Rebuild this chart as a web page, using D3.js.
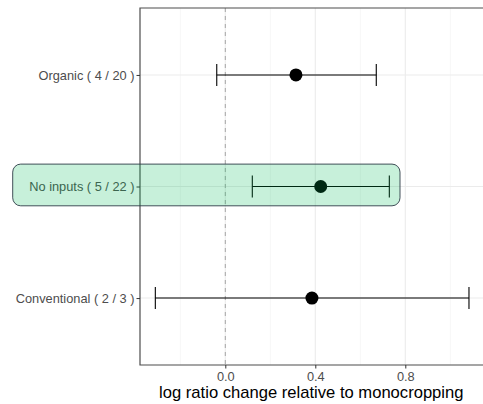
<!DOCTYPE html>
<html lang="en">
<head>
  <meta charset="utf-8">
  <title>log ratio</title>
  <script src="https://cdn.jsdelivr.net/npm/d3@7"></script>
  <style type="text/css">
    body{ margin:0; background:#fff; }
    text{ font-family: "Liberation Sans", Arial, sans-serif; }
  </style>
</head>
<body>
  <script type="text/javascript">

    var width = 483;
    var height = 404;

    // data
    var categories = ["Organic ( 4 / 20 )", "No inputs ( 5 / 22 )", "Conventional ( 2 / 3 )"];
    var estimates = [0.314, 0.424, 0.385];
    var lowers = [-0.038, 0.12, -0.311];
    var uppers = [0.671, 0.729, 1.083];
    var xTicks = [0.0, 0.4, 0.8];
    var xMinor = [-0.2, 0.2, 0.6, 1.0];
    var highlighted = "No inputs ( 5 / 22 )";

    var panel = {left: 140, top: 8, right: 520, bottom: 365};

    var svg = d3.select("body")
        .append("svg")
        .attr("width", width)
        .attr("height", height);

    // x: 0 at 225.3, 225px per unit
    var xScale = d3.scaleLinear()
        .domain([-0.38, 1.31])
        .range([225.3 - 0.38 * 225, 225.3 + 1.31 * 225]);

    var yScale = d3.scalePoint()
        .domain(categories)
        .range([panel.top, panel.bottom])
        .padding(0.6);

    // grid lines
    svg.selectAll(".minor")
        .data(xMinor)
        .enter().append("line")
        .attr("x1", d => xScale(d)).attr("x2", d => xScale(d))
        .attr("y1", panel.top).attr("y2", panel.bottom)
        .attr("stroke", "#f0f0f0").attr("stroke-width", 0.6);

    svg.selectAll(".major")
        .data(xTicks)
        .enter().append("line")
        .attr("x1", d => xScale(d)).attr("x2", d => xScale(d))
        .attr("y1", panel.top).attr("y2", panel.bottom)
        .attr("stroke", "#ebebeb").attr("stroke-width", 1.1);

    svg.selectAll(".hgrid")
        .data(categories)
        .enter().append("line")
        .attr("x1", panel.left).attr("x2", panel.right)
        .attr("y1", d => yScale(d)).attr("y2", d => yScale(d))
        .attr("stroke", "#ebebeb").attr("stroke-width", 1.1);

    // zero reference
    svg.append("line")
        .attr("x1", xScale(0)).attr("x2", xScale(0))
        .attr("y1", panel.top).attr("y2", panel.bottom)
        .attr("stroke", "#a6a6a6")
        .attr("stroke-dasharray", "4,4");

    var rows = categories.map(function(c, i){
        return {cat: c, est: estimates[i], lo: lowers[i], hi: uppers[i]};
    });

    // error bars
    var g = svg.selectAll(".row").data(rows).enter().append("g");
    g.append("line")
        .attr("x1", d => xScale(d.lo)).attr("x2", d => xScale(d.hi))
        .attr("y1", d => yScale(d.cat)).attr("y2", d => yScale(d.cat))
        .attr("stroke", "#000").attr("stroke-width", 1.1);
    g.append("line")
        .attr("x1", d => xScale(d.lo)).attr("x2", d => xScale(d.lo))
        .attr("y1", d => yScale(d.cat) - 11).attr("y2", d => yScale(d.cat) + 11)
        .attr("stroke", "#000").attr("stroke-width", 1.1);
    g.append("line")
        .attr("x1", d => xScale(d.hi)).attr("x2", d => xScale(d.hi))
        .attr("y1", d => yScale(d.cat) - 11).attr("y2", d => yScale(d.cat) + 11)
        .attr("stroke", "#000").attr("stroke-width", 1.1);
    g.append("circle")
        .attr("cx", d => xScale(d.est))
        .attr("cy", d => yScale(d.cat))
        .attr("r", 6.5)
        .attr("fill", "#000");

    // panel border (left, top, bottom)
    svg.append("path")
        .attr("d", "M" + panel.right + "," + panel.top + "H" + panel.left + "V" + panel.bottom + "H" + panel.right)
        .attr("fill", "none")
        .attr("stroke", "#4d4d4d")
        .attr("stroke-width", 1.2);

    // axes
    var yAxis = svg.append("g")
        .attr("transform", "translate(" + panel.left + ",0)")
        .call(d3.axisLeft(yScale).tickSize(3.5).tickPadding(2));
    var xAxis = svg.append("g")
        .attr("transform", "translate(0," + panel.bottom + ")")
        .call(d3.axisBottom(xScale).tickValues(xTicks).tickFormat(d3.format(".1f")).tickSize(3.5).tickPadding(3));
    [yAxis, xAxis].forEach(function(a){
        a.select(".domain").remove();
        a.selectAll(".tick line").attr("stroke", "#333").attr("stroke-width", 1);
        a.selectAll(".tick text").attr("fill", "#4d4d4d").style("font-size", "12.8px");
    });

    svg.append("text")
        .attr("x", xScale(0.4) - 4)
        .attr("y", 398)
        .attr("text-anchor", "middle")
        .style("font-size", "16.6px")
        .attr("fill", "#000")
        .text("log ratio change relative to monocropping");

    // highlight box over the selected row
    var hy = yScale(highlighted);
    svg.append("rect")
        .attr("x", 12.7)
        .attr("y", hy - 22.4)
        .attr("width", 387.3)
        .attr("height", 41.7)
        .attr("rx", 8).attr("ry", 8)
        .attr("fill", "rgb(0,185,88)")
        .attr("fill-opacity", 0.22)
        .attr("stroke", "#2f3d48")
        .attr("stroke-opacity", 0.9)
        .attr("stroke-width", 1);

  </script>
</body>
</html>
